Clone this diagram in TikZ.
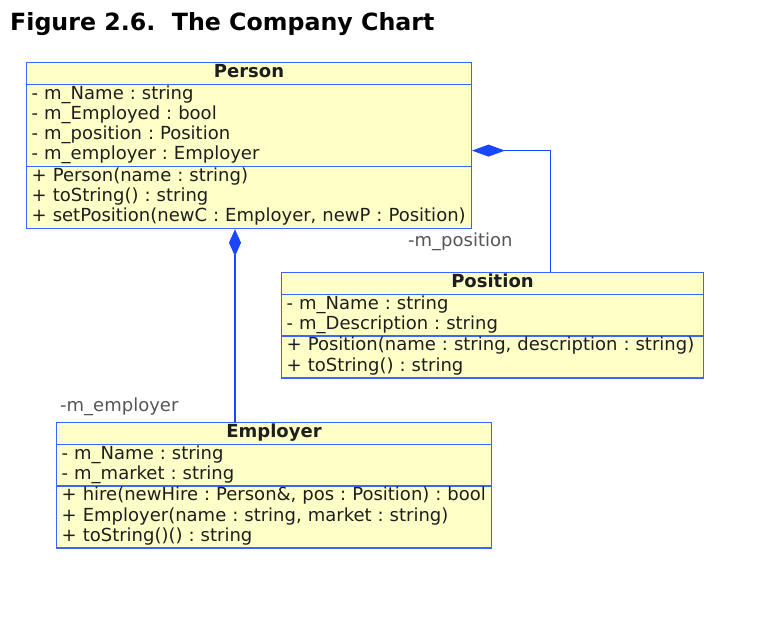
\documentclass[tikz,border=0pt]{standalone}
\usepackage{fontspec}
\setmainfont{DejaVu Sans}
\usetikzlibrary{arrows.meta, positioning, shapes.multipart}
\definecolor{classFill}{RGB}{255,255,200}
\definecolor{classLine}{RGB}{60,100,255}
\definecolor{assocLine}{RGB}{25,70,255}
\definecolor{roleText}{RGB}{85,85,85}
\definecolor{bodyText}{RGB}{30,30,30}
\newcommand{\classname}[1]{\hbox to\hsize{\hfil\strut\textbf{#1}\hfil}}
\frenchspacing

\begin{document}
\begin{tikzpicture}[x=1pt, y=-1pt,
    umlclass/.style={rectangle split, rectangle split parts=3,
      draw=classLine, fill=classFill, line width=1.4pt, text=bodyText,
      inner xsep=5pt, inner ysep=0pt, text width=#1, anchor=north west,
      font=\fontsize{18}{20.2}\selectfont},
    rolelabel/.style={text=roleText, inner sep=0pt,
      font=\fontsize{18}{20.2}\selectfont},
    assoc/.style={draw=assocLine, line width=1.3pt}]
        \useasboundingbox (0,0) rectangle (782,620);

        % Title
        \node[anchor=base west, inner sep=0pt, font=\fontsize{23.7}{28}\selectfont\bfseries]
          (title) at (10,31) {Figure 2.6.\ \ The Company Chart};

        % Class: Person
        \node[umlclass=434.6pt] (person) at (26,62) {%
          \classname{Person}
          \nodepart{second}
          \strut- m\_Name : string\\
          \strut- m\_Employed : bool\\
          \strut- m\_position : Position\\
          \strut- m\_employer : Employer
          \nodepart{third}
          \strut+ Person(name : string)\\
          \strut+ toString() : string\\
          \strut+ setPosition(newC : Employer, newP : Position)};

        % Class: Position
        \node[umlclass=411.6pt] (position) at (281,272) {%
          \classname{Position}
          \nodepart{second}
          \strut- m\_Name : string\\
          \strut- m\_Description : string
          \nodepart{third}
          \strut+ Position(name : string, description : string)\\
          \strut+ toString() : string};

        % Class: Employer
        \node[umlclass=424.6pt] (employer) at (56,422) {%
          \classname{Employer}
          \nodepart{second}
          \strut- m\_Name : string\\
          \strut- m\_market : string
          \nodepart{third}
          \strut+ hire(newHire : Person\&, pos : Position) : bool\\
          \strut+ Employer(name : string, market : string)\\
          \strut+ toString()() : string};

        % Compositions
        \draw[assoc, {Diamond[length=33pt, width=12pt, fill=assocLine]}-]
          ([yshift=-5pt]person.east) -| ([xshift=58pt]position.north);
        \draw[assoc, {Diamond[length=27pt, width=12pt, fill=assocLine]}-]
          ([xshift=-14pt]person.south) -- ([xshift=-14pt]person.south |- employer.north);

        % Role names
        \node[rolelabel, anchor=base west] (posrole) at (408,247) {-m\_position};
        \node[rolelabel, anchor=base west] (emprole) at (60,411) {-m\_employer};
      \end{tikzpicture}
\end{document}
